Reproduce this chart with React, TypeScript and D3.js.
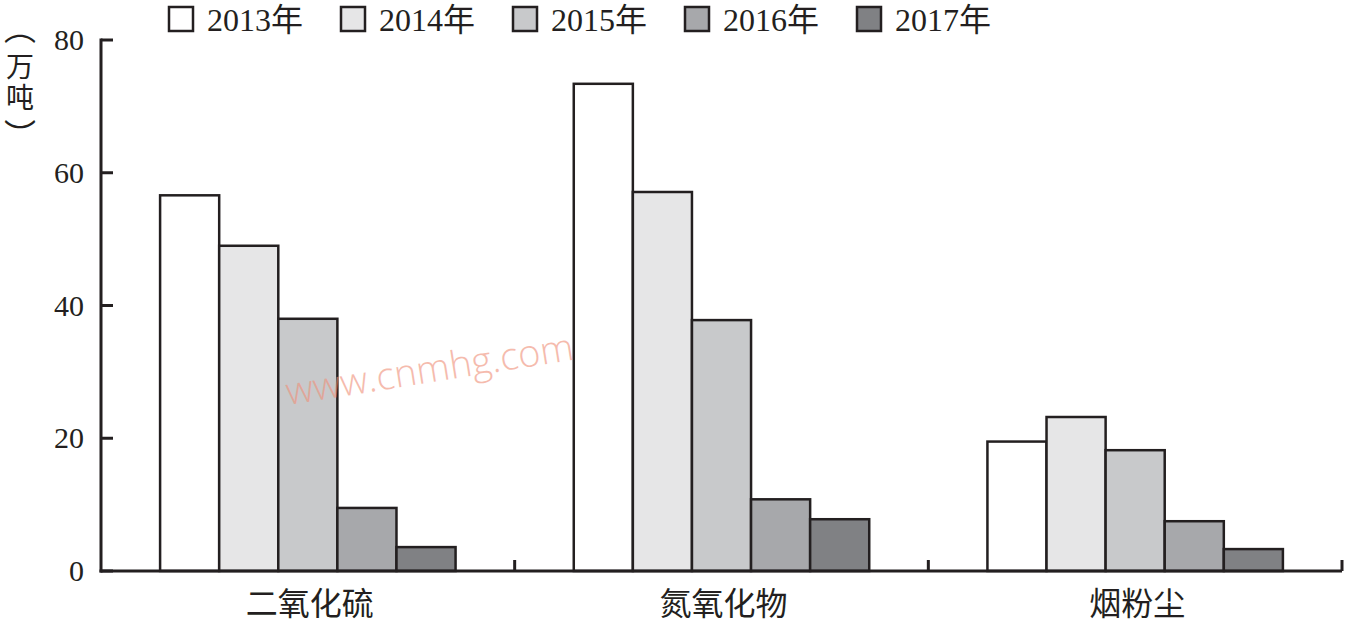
import React from "react";
import * as d3 from "d3";

const categories = ["二氧化硫", "氮氧化物", "烟粉尘"];
const years = ["2013年", "2014年", "2015年", "2016年", "2017年"];
const values2013 = [56.6, 73.4, 19.5];
const values2014 = [49.0, 57.1, 23.2];
const values2015 = [38.0, 37.8, 18.2];
const values2016 = [9.5, 10.8, 7.5];
const values2017 = [3.6, 7.8, 3.3];
const seriesValues = [values2013, values2014, values2015, values2016, values2017];
const colors = ["#ffffff", "#e6e6e7", "#c8c9cb", "#a7a8ab", "#808184"];
const yTicks = [0, 20, 40, 60, 80];
const yTitleChars = ["︵", "万", "吨", "︶"];

const W = 1347;
const H = 624;
const left = 101;
const right = 1342;
const top = 40;
const bottom = 571;
const ink = "#231f20";
const serif = "Liberation Serif, Noto Sans CJK SC, serif";
const cjk = "Noto Sans CJK SC, sans-serif";

export default function App() {
  const x0 = d3.scaleBand<string>().domain(categories).range([left, right]).padding(0);
  const x1 = d3
    .scaleBand<string>()
    .domain(years)
    .range([0, x0.bandwidth()])
    .paddingInner(0)
    .paddingOuter(1);
  const y = d3.scaleLinear().domain([0, 80]).range([bottom, top]);
  const titleY = [26, 65, 96, 133];
  const titleSize = [32, 28, 28, 32];

  return (
    <svg width={W} height={H} style={{ position: "absolute", left: 0, top: 0, background: "#fff" }}>
      {/* bars */}
      {categories.map((c, ci) => (
        <g key={c} transform={`translate(${x0(c)},0)`}>
          {years.map((yr, si) => {
            const v = seriesValues[si][ci];
            return (
              <rect
                key={yr}
                x={x1(yr)}
                y={y(v)}
                width={x1.bandwidth()}
                height={y(0) - y(v)}
                fill={colors[si]}
                stroke={ink}
                strokeWidth={2.5}
              />
            );
          })}
        </g>
      ))}

      {/* watermark */}
      <text
        x={288}
        y={405}
        transform="rotate(-9 288 405)"
        fontFamily="Open Sans, Liberation Sans, sans-serif"
        fontWeight={300}
        fontSize={38}
        fill="#f08f78"
        opacity={0.6}
      >
        www.cnmhg.com
      </text>

      {/* y axis */}
      <line x1={left} x2={left} y1={top - 1.5} y2={bottom + 1.5} stroke={ink} strokeWidth={3} />
      {yTicks.map((t) => (
        <g key={t}>
          <line x1={left} x2={left + 12} y1={y(t)} y2={y(t)} stroke={ink} strokeWidth={3} />
          <text
            x={84}
            y={y(t)}
            dy="0.34em"
            textAnchor="end"
            fontFamily={serif}
            fontSize={30}
            fill={ink}
          >
            {t}
          </text>
        </g>
      ))}

      {/* x axis */}
      <line x1={left - 1.5} x2={right} y1={bottom} y2={bottom} stroke={ink} strokeWidth={3} />
      {categories.map((c) => (
        <line
          key={"t" + c}
          x1={(x0(c) as number) + x0.bandwidth()}
          x2={(x0(c) as number) + x0.bandwidth()}
          y1={bottom}
          y2={bottom - 11}
          stroke={ink}
          strokeWidth={3}
        />
      ))}
      {categories.map((c) => (
        <text
          key={"l" + c}
          x={(x0(c) as number) + x0.bandwidth() / 2 + 2}
          y={615}
          textAnchor="middle"
          fontFamily={cjk}
          fontSize={32}
          fill={ink}
        >
          {c}
        </text>
      ))}

      {/* y axis title, stacked vertically */}
      {yTitleChars.map((ch, i) => (
        <text
          key={"yt" + i}
          x={20}
          y={titleY[i]}
          textAnchor="middle"
          dominantBaseline="central"
          fontFamily={cjk}
          fontSize={titleSize[i]}
          fill={ink}
        >
          {ch}
        </text>
      ))}

      {/* legend */}
      {years.map((yr, i) => (
        <g key={"lg" + yr} transform={`translate(${169 + i * 172},7)`}>
          <rect x={0} y={0} width={24} height={24} fill={colors[i]} stroke={ink} strokeWidth={2.5} />
          <text x={38} y={24} fontFamily={serif} fontSize={32} fill={ink}>
            {yr}
          </text>
        </g>
      ))}
    </svg>
  );
}
